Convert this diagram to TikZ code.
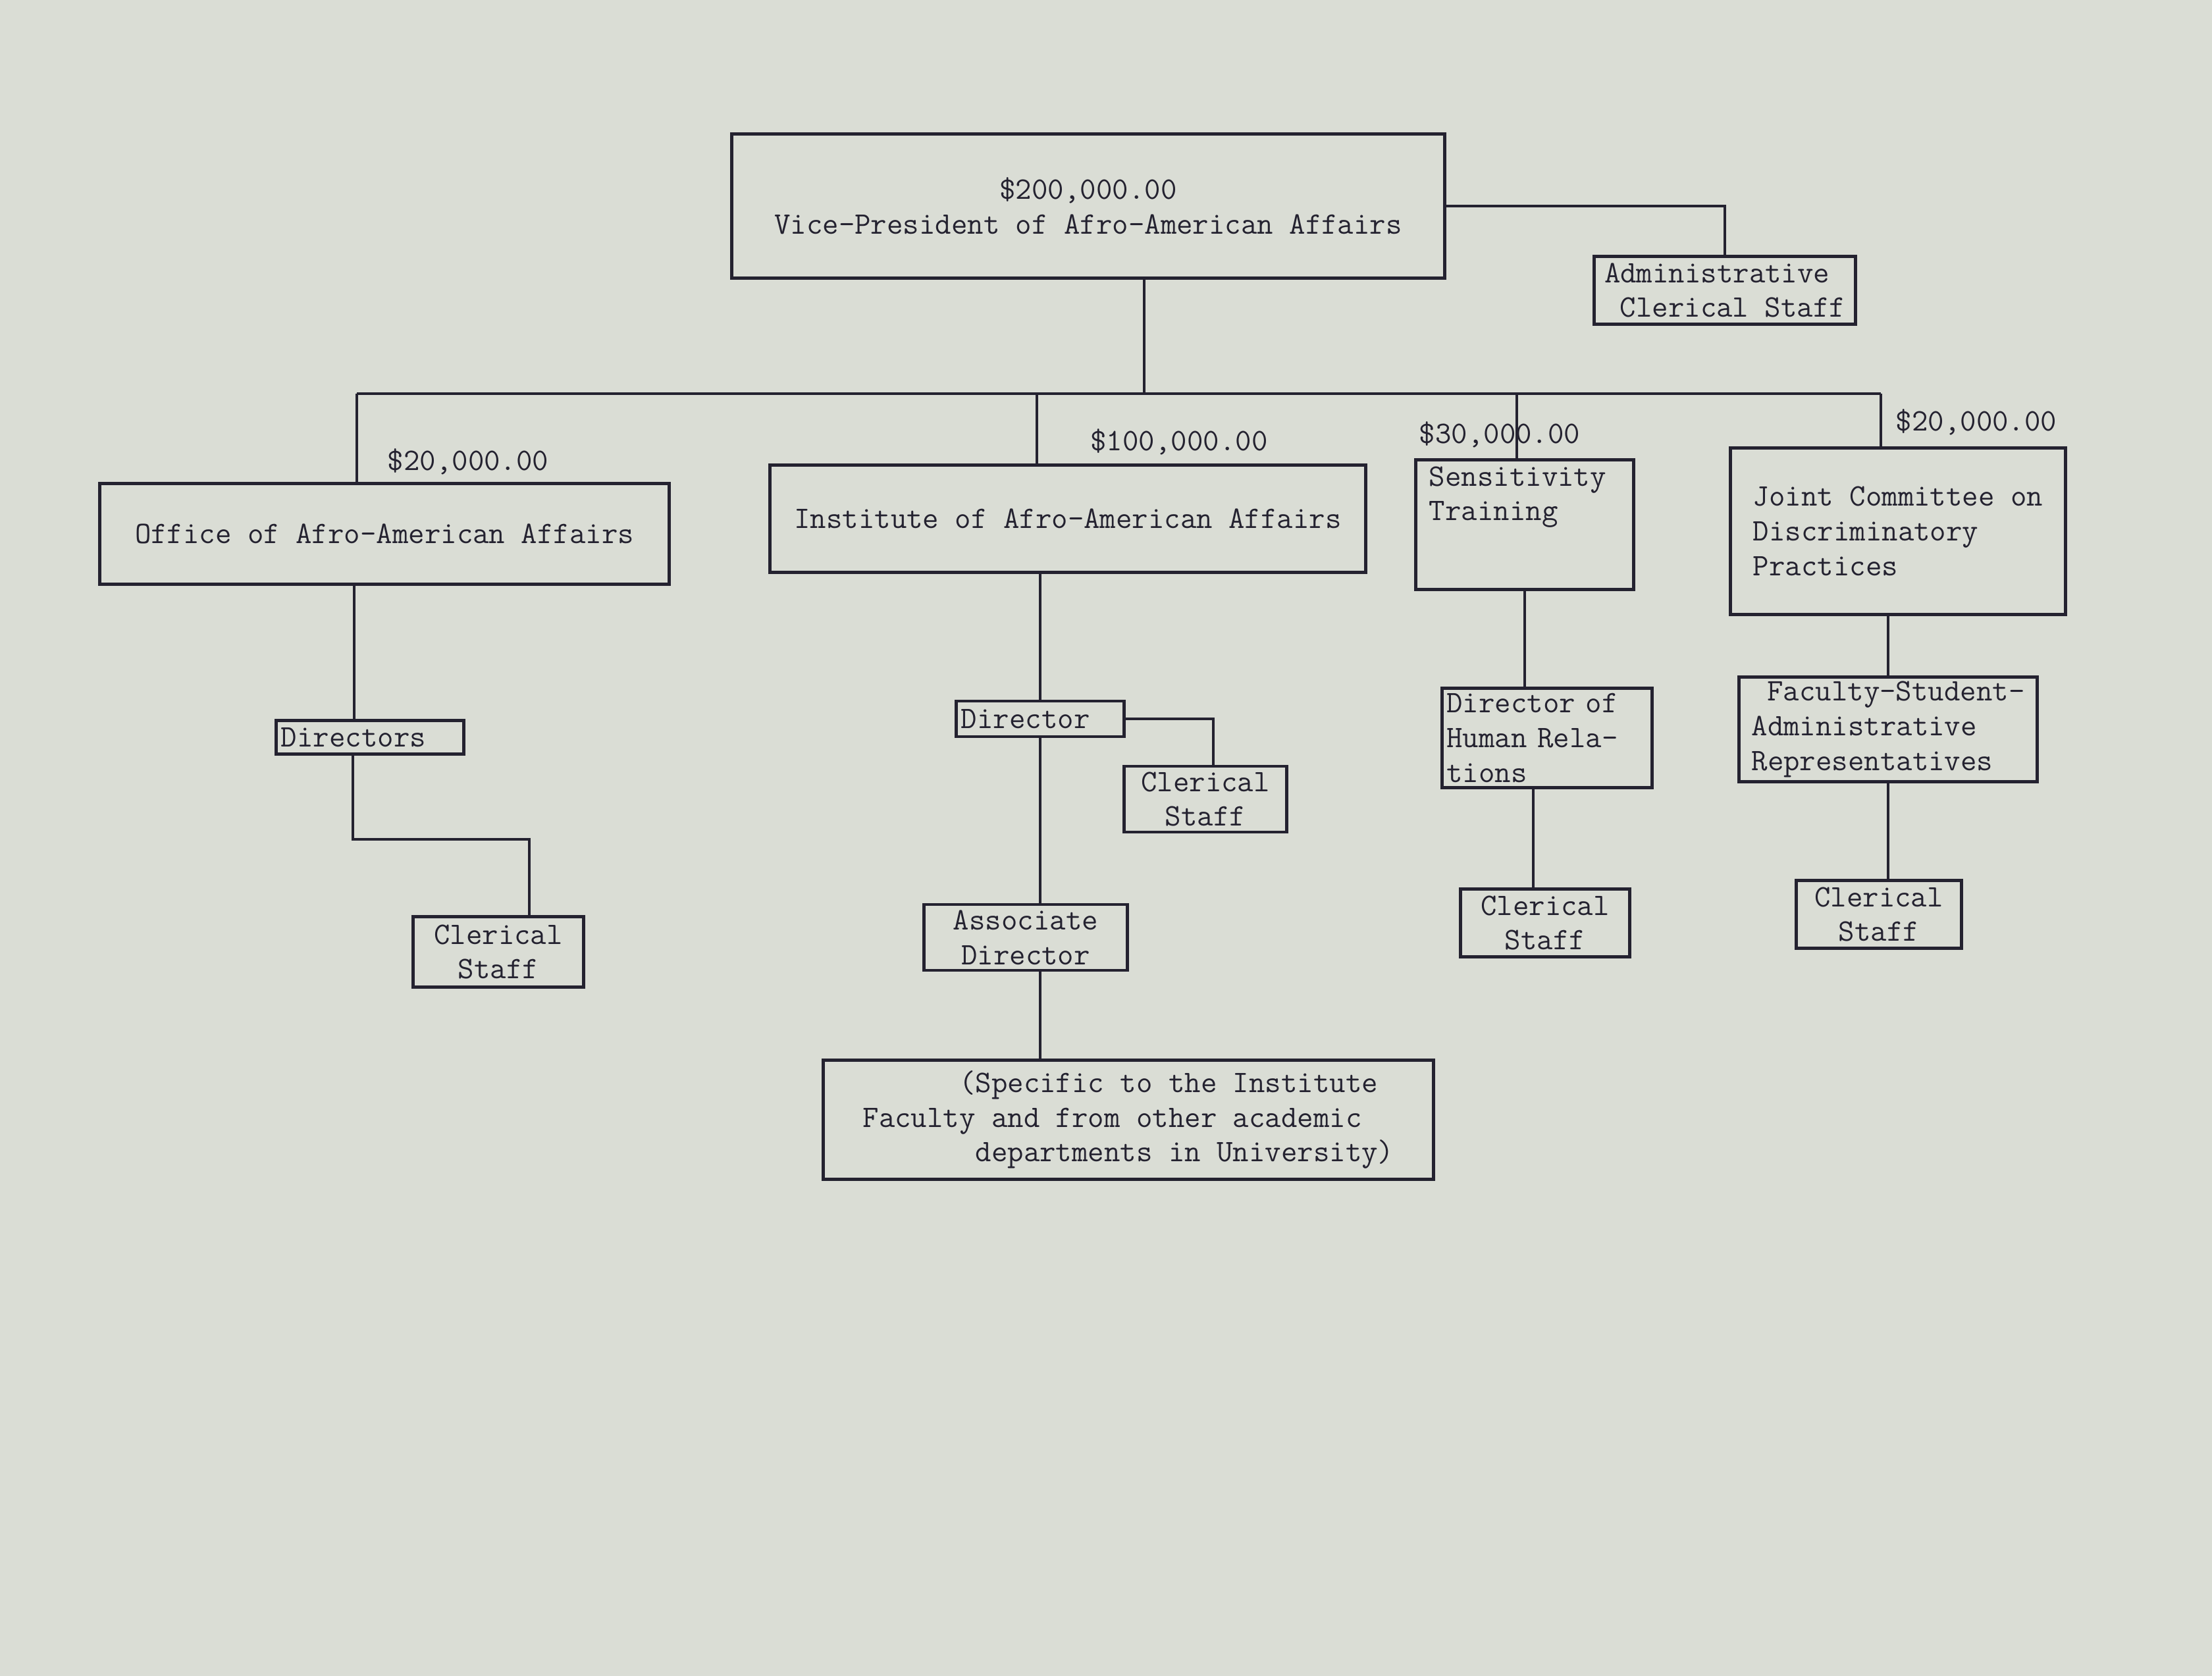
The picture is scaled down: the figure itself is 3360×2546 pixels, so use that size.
\documentclass[tikz,border=0pt]{standalone}
\usepackage{fontspec}
\usepackage{tikz}
\definecolor{paper}{RGB}{218,221,213}
\definecolor{ink}{RGB}{36,34,48}

\begin{document}
\begin{tikzpicture}[x=0.01cm,y=-0.01cm,
  box/.style={draw=ink,line width=1.4pt,text=ink,inner sep=2pt,align=center,font=\ttfamily\fontsize{13.5}{15}\selectfont},
  amt/.style={text=ink,inner sep=0pt,font=\ttfamily\fontsize{13.5}{15}\selectfont},
  link/.style={draw=ink,line width=0.9pt}]
\newcommand{\toptext}[3]{\parbox[c][#1][t]{#2}{\raggedright\vspace*{0.1cm}#3}}
\fill[paper] (0,0) rectangle (3360,2546);
\useasboundingbox (0,0) rectangle (3360,2546);

\node[box,minimum width=10.82cm,minimum height=2.18cm] (vp) at (1653,313) {\$200,000.00\\Vice-President of Afro-American Affairs};
\node[box,align=left,minimum width=3.97cm,minimum height=1.03cm] (adm) at (2620,441) {Administrative\\\hspace*{0.5em}Clerical Staff};

\node[box,minimum width=8.64cm,minimum height=1.52cm] (off) at (584,811) {Office of Afro-American Affairs};
\node[box,minimum width=9.04cm,minimum height=1.63cm] (inst) at (1622,788) {Institute of Afro-American Affairs};
\node[box,inner sep=0pt,minimum width=3.3cm,minimum height=1.97cm] (sens) at (2316,797) {\toptext{1.97cm}{2.9cm}{Sensitivity\\Training}};
\node[box,align=left,minimum width=5.08cm,minimum height=2.53cm] (joint) at (2883,807) {Joint Committee on\\Discriminatory\\Practices};

\node[amt] (m1) at (711,701) {\$20,000.00};
\node[amt] (m2) at (1791,671) {\$100,000.00};
\node[amt] (m3) at (2278,660) {\$30,000.00};
\node[amt] (m4) at (3002,641) {\$20,000.00};

\node[box,align=left,minimum width=2.85cm,minimum height=0.51cm,text width=2.7cm] (dirs) at (562,1120) {Directors};
\node[box,minimum width=2.59cm,minimum height=1.07cm] (cs1) at (757,1446) {Clerical\\Staff};

\node[box,align=left,minimum width=2.51cm,minimum height=0.54cm,text width=2.4cm] (dir) at (1580,1092) {Director};
\node[box,minimum width=2.46cm,minimum height=1.0cm] (cs2) at (1831,1214) {Clerical\\Staff};
\node[box,minimum width=3.08cm,minimum height=1.0cm] (assoc) at (1558,1424) {Associate\\Director};
\node[box,align=left,minimum width=9.26cm,minimum height=1.8cm] (spec) at (1714,1701) {\phantom{Facult}(Specific to the Institute\\Faculty and from other academic\\\phantom{Faculty}departments in University)};

\node[box,align=left,minimum width=3.19cm,minimum height=1.5cm,text width=3.05cm] (dhr) at (2350,1121) {Director of\\Human Rela-\\tions};
\node[box,minimum width=2.57cm,minimum height=1.03cm] (cs3) at (2347,1402) {Clerical\\Staff};

\node[box,align=left,minimum width=4.52cm,minimum height=1.5cm] (fsar) at (2868,1108) {\hspace*{0.5em}Faculty-Student-\\Administrative\\Representatives};
\node[box,minimum width=2.51cm,minimum height=1.03cm] (cs4) at (2854,1389) {Clerical\\Staff};

\coordinate (stem) at (1738,598);
\coordinate (busL) at (542,598);
\coordinate (busR) at (2857,598);
\coordinate (d2) at (1575,598);
\coordinate (d3) at (2304,598);
\draw[link] (vp.east) -| (adm.north);
\draw[link] (stem |- vp.south) -- (stem);
\draw[link] (busL) -- (busR);
\draw[link] (busL) -- (busL |- off.north);
\draw[link] (d2) -- (d2 |- inst.north);
\draw[link] (d3) -- (d3 |- sens.north);
\draw[link] (busR) -- (busR |- joint.north);

\coordinate (cA) at (538,0);
\coordinate (e1) at (536,1275);
\coordinate (e2) at (804,1275);
\draw[link] (cA |- off.south) -- (cA |- dirs.north);
\draw[link] (e1 |- dirs.south) -- (e1) -- (e2) -- (e2 |- cs1.north);

\coordinate (cB) at (1580,0);
\coordinate (cB2) at (1843,0);
\draw[link] (cB |- inst.south) -- (cB |- dir.north);
\draw[link] (dir.east) -| (cB2 |- cs2.north);
\draw[link] (cB |- dir.south) -- (cB |- assoc.north);
\draw[link] (cB |- assoc.south) -- (cB |- spec.north);

\coordinate (cC) at (2329,0);
\draw[link] (sens.south) -- (sens.south |- dhr.north);
\draw[link] (cC |- dhr.south) -- (cC |- cs3.north);
\draw[link] (fsar.north |- joint.south) -- (fsar.north);
\draw[link] (fsar.south) -- (fsar.south |- cs4.north);
\end{tikzpicture}
\end{document}
